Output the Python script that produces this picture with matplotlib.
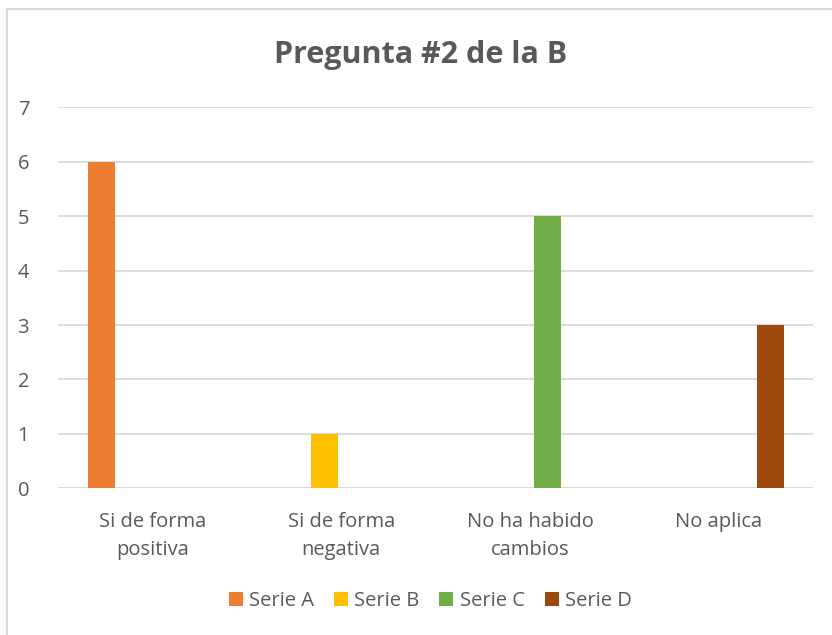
import numpy as np
import matplotlib.pyplot as plt
from matplotlib.lines import Line2D

categories = ["Si de forma\npositiva", "Si de forma\nnegativa", "No ha habido\ncambios", "No aplica"]
series_names = ["Serie A", "Serie B", "Serie C", "Serie D"]
serie_a = [6, 0, 0, 0]
serie_b = [0, 1, 0, 0]
serie_c = [0, 0, 5, 0]
serie_d = [0, 0, 0, 3]
colors = ["#ED7D31", "#FFC000", "#70AD47", "#9E480E"]

txt = "#595959"
plt.rcParams['font.family'] = ['Open Sans', 'DejaVu Sans']

fig = plt.figure(figsize=(8.32, 6.35), dpi=100)
ax = fig.add_axes([0.0701, 0.231, 0.907, 0.600])

x = np.arange(len(categories))
w = 0.143
step = 0.182
for i, (vals, name) in enumerate(zip([serie_a, serie_b, serie_c, serie_d], series_names)):
    ax.bar(x + (i - 1.5) * step, vals, width=w, color=colors[i], label=name, zorder=3)

ax.set_xlim(-0.5, len(categories) - 0.5)
ax.set_ylim(0, 7)
ax.set_yticks(range(8))
ax.set_xticks(x)
ax.set_xticklabels(categories, linespacing=1.55)
ax.grid(axis='y', color="#D9D9D9", lw=1.3, zorder=0)
ax.tick_params(axis='both', length=0, colors=txt, labelsize=14.5)
ax.tick_params(axis='y', pad=21)
ax.tick_params(axis='x', pad=17)
for s in ax.spines.values():
    s.set_visible(False)
ax.axhline(0, color="#D9D9D9", lw=1.3, zorder=2)

fig.text(0.505, 0.913, "Pregunta #2 de la B", ha='center', va='center',
         fontsize=22, fontweight='bold', color=txt)

leg = fig.legend(loc='center', bbox_to_anchor=(0.517, 0.053), ncol=4, frameon=False,
                 fontsize=14.5, handlelength=0.7, handleheight=0.7, handletextpad=0.3,
                 columnspacing=1.0, labelcolor=txt)

# chart frame: only top and left edges fall inside the image
fig.add_artist(Line2D([0.0084, 1.0], [0.986, 0.986], transform=fig.transFigure,
                      color="#D9D9D9", lw=1.5))
fig.add_artist(Line2D([0.0084, 0.0084], [0.0, 0.986], transform=fig.transFigure,
                      color="#D9D9D9", lw=1.5))

fig.savefig("out.png", dpi=100)
